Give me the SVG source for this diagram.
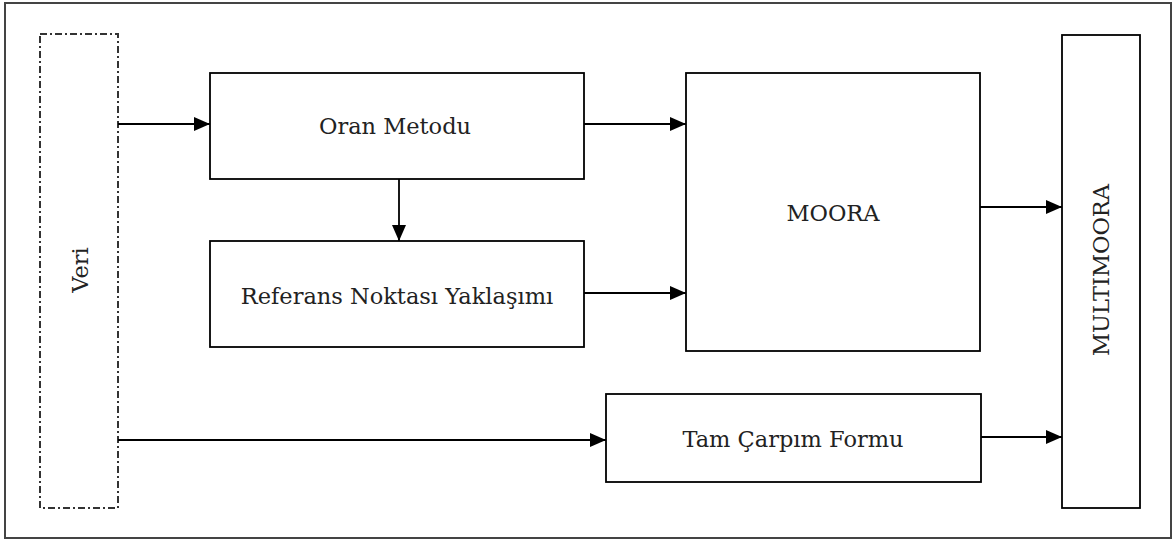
<svg xmlns="http://www.w3.org/2000/svg" width="1176" height="543" viewBox="0 0 1176 543">
<style>
.box{fill:#fff;stroke:#000;stroke-width:1.8}
.dash{fill:none;stroke:#333;stroke-width:2;stroke-dasharray:7,3,2,3}
.lbl{font-family:"DejaVu Serif","Liberation Serif",serif;font-size:22.5px;fill:#222;text-anchor:middle;dominant-baseline:central}
.con{stroke:#000;stroke-width:1.8;fill:none;marker-end:url(#ah)}
</style>
<defs>
<marker id="ah" markerWidth="16" markerHeight="14" refX="16" refY="7" orient="auto" markerUnits="userSpaceOnUse">
<path d="M0,0 L16,7 L0,14 Z" fill="#000"/>
</marker>
</defs>
<rect x="5" y="3" width="1166" height="535" fill="#fff" stroke="#444" stroke-width="2"/>
<g id="veri"><rect class="dash" x="40" y="34" width="78" height="474"/><text class="lbl" transform="translate(80,270) rotate(-90)">Veri</text></g>
<g id="oran"><rect class="box" x="210" y="73" width="374" height="106"/><text class="lbl" x="395" y="126">Oran Metodu</text></g>
<g id="referans"><rect class="box" x="210" y="241" width="374" height="106"/><text class="lbl" x="397" y="296">Referans Noktası Yaklaşımı</text></g>
<g id="moora"><rect class="box" x="686" y="73" width="294" height="278"/><text class="lbl" x="833" y="213">MOORA</text></g>
<g id="tam"><rect class="box" x="606" y="394" width="375" height="88"/><text class="lbl" x="793" y="439">Tam Çarpım Formu</text></g>
<g id="multimoora"><rect class="box" x="1062" y="35" width="78" height="473"/><text class="lbl" transform="translate(1101,270) rotate(-90)">MULTIMOORA</text></g>
<g id="connectors">
<line class="con" x1="118" y1="124" x2="210" y2="124"/>
<line class="con" x1="584" y1="124" x2="686" y2="124"/>
<line class="con" x1="399" y1="179" x2="399" y2="241"/>
<line class="con" x1="584" y1="293" x2="686" y2="293"/>
<line class="con" x1="980" y1="207" x2="1062" y2="207"/>
<line class="con" x1="981" y1="437" x2="1062" y2="437"/>
<line class="con" x1="118" y1="440" x2="606" y2="440"/>
</g>
</svg>
